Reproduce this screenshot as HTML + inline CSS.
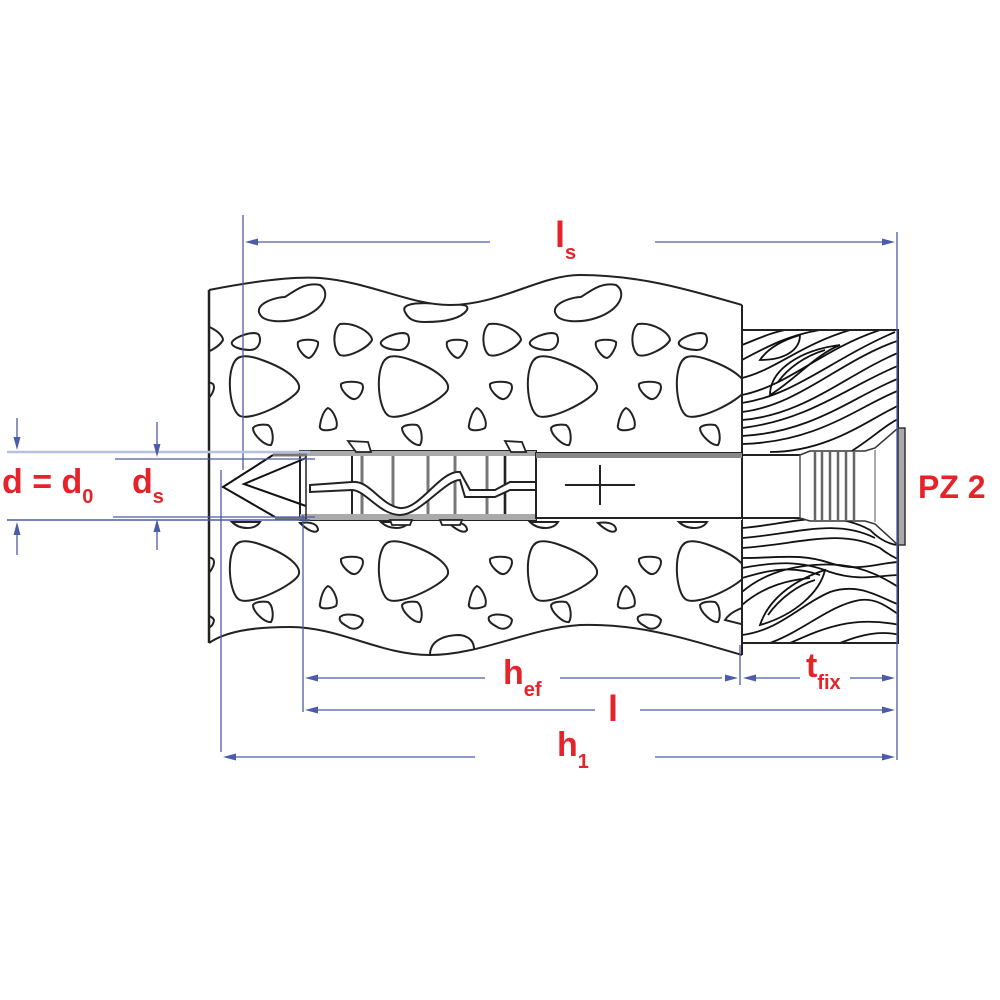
<!DOCTYPE html>
<html><head><meta charset="utf-8"><style>
html,body{margin:0;padding:0;background:#fff}
svg{display:block}
.t{font-family:"Liberation Sans",sans-serif;font-weight:bold;fill:#e5232a}
</style></head><body>
<svg width="1000" height="1000" viewBox="0 0 1000 1000" xmlns="http://www.w3.org/2000/svg">
<defs>
<clipPath id="cc"><path d="M209,290 C250,282 290,276 320,278 C370,282 410,305 450,305 C500,305 540,275 580,275 C640,275 690,290 742,305 L742,655 C690,640 640,623 580,625 C530,628 480,655 430,655 C380,655 340,627 290,627 C250,627 225,632 209,643 Z"/></clipPath>
<clipPath id="wc"><rect x="742" y="330" width="156" height="313"/></clipPath>
<g id="ut" fill="none" stroke="#222" stroke-width="2">
<path d="M240,357 C225,362 228,410 240,416 C252,421 290,402 298,391 C303,383 290,370 262,360 C254,357 246,355 240,357Z"/>
<path d="M340,324 C332,330 333,350 340,355 C348,358 368,348 372,340 C372,333 355,322 340,324Z"/>
<path d="M298,342 C296,348 305,358 309,358 C313,357 319,346 318,342 C314,339 302,339 298,342Z"/>
<path d="M232,342 C236,336 255,330 259,335 C262,342 258,350 250,350 C242,350 230,347 232,342Z"/>
<path d="M341,384 C340,390 350,400 355,399 C360,398 365,388 362,384 C358,381 345,381 341,384Z"/>
<path d="M320,425 C318,432 330,431 336,428 C339,422 333,410 328,408 C324,410 321,418 320,425Z"/>
<path d="M253,428 C253,435 265,446 271,445 C274,440 273,428 268,425 C262,424 255,425 253,428Z"/>
</g>
<g id="ub" fill="none" stroke="#222" stroke-width="2">
<path d="M240,542 C225,547 228,595 240,600 C252,605 290,587 298,576 C303,568 290,555 262,545 C254,542 246,540 240,542Z"/>
<path d="M341,559 C340,565 350,575 355,574 C360,573 365,563 362,559 C358,556 345,556 341,559Z"/>
<path d="M320,604 C318,610 330,609 336,606 C339,600 333,588 328,586 C324,588 321,596 320,604Z"/>
<path d="M253,605 C253,612 265,623 271,622 C274,617 273,605 268,602 C262,601 255,602 253,605Z"/>
<path d="M340,617 C345,613 360,614 363,620 C362,628 355,630 350,628 C345,625 338,622 340,617Z"/>
<path d="M300,523 C305,528 315,535 318,530 C318,525 312,521 300,523Z"/>
<path d="M232,522 C240,530 255,530 260,522Z"/>
</g>
</defs>

<g clip-path="url(#cc)">
<rect x="200" y="260" width="560" height="420" fill="#fff"/>
<g fill="none" stroke="#222" stroke-width="2">
<path d="M262,317 C250,305 275,297 285,297 C296,290 306,282 320,285 C331,292 325,310 300,318 C285,323 268,322 262,317Z"/>
<path d="M558,317 C546,305 571,297 581,297 C592,290 602,282 616,285 C627,292 621,310 596,318 C581,323 564,322 558,317Z"/>
<path d="M405,312 C400,303 420,302 440,304 C455,306 470,302 467,310 C460,320 440,322 425,322 C412,322 408,318 405,312Z"/>
<path d="M430,655 C430,640 445,635 460,635 C473,637 475,645 474,655Z"/>
<path d="M725,620 C730,612 745,605 750,608 L745,625Z"/>
</g>
<use href="#ut"/><use href="#ut" x="149"/><use href="#ut" x="298"/><use href="#ut" x="447"/><use href="#ut" x="-149"/>
<use href="#ub"/><use href="#ub" x="149"/><use href="#ub" x="298"/><use href="#ub" x="447"/><use href="#ub" x="-149"/>
</g>
<path d="M209,290 C250,282 290,276 320,278 C370,282 410,305 450,305 C500,305 540,275 580,275 C640,275 690,290 742,305" fill="none" stroke="#222" stroke-width="2"/>
<path d="M209,643 C225,632 250,627 290,627 C340,627 380,655 430,655 C480,655 530,628 580,625 C640,623 690,640 742,655" fill="none" stroke="#222" stroke-width="2"/>
<line x1="209" y1="290" x2="209" y2="643" stroke="#222" stroke-width="2.5"/>
<line x1="742" y1="305" x2="742" y2="655" stroke="#222" stroke-width="2"/>

<!-- wood -->
<rect x="742" y="330" width="156" height="313" fill="#fff"/>
<g clip-path="url(#wc)" fill="none" stroke="#111" stroke-width="1.8">
<path d="M742,345 C760,338 770,333 785,330"/>
<path d="M742,360 C770,345 790,335 820,330"/>
<path d="M760,360 C770,345 790,338 800,335 C800,350 785,360 760,360Z"/>
<path d="M742,378 C775,370 800,345 850,330"/>
<path d="M742,395 C790,385 820,350 880,330"/>
<path d="M742,403 C795,395 830,360 895,332"/>
<path d="M742,412 C800,405 840,360 900,340"/>
<path d="M742,420 C805,415 845,375 900,352"/>
<path d="M742,428 C810,420 850,385 900,365"/>
<path d="M742,436 C815,432 855,395 900,378"/>
<path d="M742,444 C820,442 860,405 900,390"/>
<path d="M770,452 C830,452 870,418 900,405"/>
<path d="M850,452 C870,440 885,425 900,418"/>
<path d="M770,395 C770,370 800,350 840,345 C815,355 795,380 770,395Z"/>
<path d="M778,382 C788,368 805,356 825,350"/>
<path d="M742,528 C790,524 830,508 870,530 C880,540 890,545 900,545"/>
<path d="M742,538 C795,534 835,518 875,538"/>
<path d="M742,548 C800,544 840,528 880,548 C890,556 900,560 900,560"/>
<path d="M742,558 C780,558 800,553 830,563 C860,573 880,562 900,562"/>
<path d="M742,568 C775,562 800,560 830,572 C860,582 880,575 900,575"/>
<path d="M742,578 C770,570 790,565 820,575"/>
<path d="M760,625 C770,595 800,578 825,570 C820,592 795,615 760,625Z"/>
<path d="M768,615 C780,598 798,585 815,580"/>
<path d="M742,592 C765,572 800,562 840,565 C870,568 890,582 900,588"/>
<path d="M742,605 C765,585 790,580 810,578"/>
<path d="M742,635 C780,630 800,605 830,592 C860,582 880,598 900,605"/>
<path d="M770,643 C805,630 830,605 860,600 C880,598 890,610 900,615"/>
<path d="M790,643 C820,630 850,615 900,625"/>
<path d="M840,643 C860,635 880,630 900,635"/>
</g>
<rect x="742" y="330" width="156" height="313" fill="none" stroke="#222" stroke-width="2"/>
<path d="M742,455 L800,455 L810,451 L865,451 L875,448 L898,428 L898,545 L875,524 L865,521 L810,521 L800,518 L742,518 Z" fill="#fff" stroke="#333" stroke-width="1.5"/>
<g stroke="#666" stroke-width="2.5">
<line x1="815" y1="452" x2="815" y2="520"/><line x1="822" y1="452" x2="822" y2="520"/>
<line x1="830" y1="452" x2="830" y2="520"/><line x1="838" y1="452" x2="838" y2="520"/>
<line x1="846" y1="452" x2="846" y2="520"/><line x1="854" y1="452" x2="854" y2="520"/>
</g>
<line x1="875" y1="450" x2="875" y2="522" stroke="#555" stroke-width="1"/>
<rect x="898" y="428" width="7" height="117" fill="#aaa" stroke="#333" stroke-width="1.5"/>

<rect x="212" y="452" width="530" height="68" fill="#fff"/>
<rect x="300" y="451" width="236" height="69" fill="#fff" stroke="#222" stroke-width="2"/>
<g stroke="#777" stroke-width="3">
<line x1="362" y1="453" x2="362" y2="518"/><line x1="393" y1="453" x2="393" y2="518"/>
<line x1="428" y1="453" x2="428" y2="518"/><line x1="455" y1="453" x2="455" y2="518"/>
<line x1="487" y1="453" x2="487" y2="518"/><line x1="505" y1="453" x2="505" y2="518"/>
</g>
<line x1="352" y1="451" x2="352" y2="520" stroke="#222" stroke-width="2"/>
<line x1="505" y1="451" x2="505" y2="520" stroke="#222" stroke-width="2"/>
<rect x="300" y="451" width="236" height="5" fill="#aaa"/>
<rect x="300" y="514" width="236" height="6" fill="#aaa"/>
<path d="M310,485 L352,482 C370,480 380,505 400,508 C420,510 440,470 460,472 L470,490 L495,490 L510,482 L550,482 L550,490 L510,490 L495,497 L465,497 L460,480 C445,480 420,515 400,515 C380,515 365,490 352,490 L310,492 Z" fill="#fff" stroke="#222" stroke-width="2"/>
<rect x="536" y="453" width="206" height="65" fill="#fff" stroke="#222" stroke-width="2"/>
<rect x="536" y="453" width="206" height="5" fill="#888"/>
<line x1="742" y1="455" x2="800" y2="455" stroke="#222" stroke-width="2"/>
<line x1="742" y1="518" x2="800" y2="518" stroke="#222" stroke-width="2"/>
<line x1="800" y1="455" x2="800" y2="518" stroke="#555" stroke-width="1.5"/>
<path d="M565,485 L635,485 M600,465 L600,505" stroke="#222" stroke-width="2" fill="none"/>
<path d="M273,455 L223,487 L275,517" fill="none" stroke="#111" stroke-width="2"/>
<path d="M306,458 L244,484 L306,506" fill="none" stroke="#111" stroke-width="2"/>
<line x1="273" y1="455" x2="307" y2="455" stroke="#777" stroke-width="3"/>
<line x1="275" y1="518" x2="307" y2="518" stroke="#777" stroke-width="3"/>
<line x1="306" y1="456" x2="306" y2="519" stroke="#222" stroke-width="1.5"/>
<g fill="#fff" stroke="#222" stroke-width="1.8">
<path d="M348,441 L368,442 L371,452 L356,452Z"/><path d="M505,441 L522,442 L526,452 L511,452Z"/>
<path d="M390,520 L412,520 L410,525 L392,525Z"/><path d="M440,520 L462,520 L460,525 L442,525Z"/>
</g>

<g stroke="#4b5ca8" stroke-width="1.3" fill="none">
<line x1="243" y1="215" x2="243" y2="470"/>
<line x1="897" y1="232" x2="897" y2="760"/>
<line x1="221" y1="470" x2="221" y2="752"/>
<line x1="303" y1="515" x2="303" y2="712"/>
<line x1="740" y1="645" x2="740" y2="685"/>
<line x1="250" y1="242" x2="490" y2="242"/><line x1="655" y1="242" x2="890" y2="242"/>
<line x1="310" y1="678" x2="485" y2="678"/><line x1="560" y1="678" x2="722" y2="678"/>
<line x1="748" y1="678" x2="800" y2="678"/><line x1="850" y1="678" x2="890" y2="678"/>
<line x1="310" y1="710" x2="595" y2="710"/><line x1="640" y1="710" x2="890" y2="710"/>
<line x1="228" y1="757" x2="475" y2="757"/><line x1="655" y1="757" x2="890" y2="757"/>
<line x1="7" y1="452" x2="310" y2="452" stroke-width="2.5" stroke="#b8c0e0"/>
<line x1="7" y1="520" x2="310" y2="520" stroke-width="1.5"/>
<line x1="115" y1="459" x2="315" y2="459"/>
<line x1="113" y1="517" x2="315" y2="517"/>
<line x1="17" y1="418" x2="17" y2="445"/><line x1="17" y1="527" x2="17" y2="555"/>
<line x1="157" y1="422" x2="157" y2="452"/><line x1="157" y1="524" x2="157" y2="550"/>
</g>
<g fill="#4b5ca8">
<polygon points="245,242 258,238.5 258,245.5"/><polygon points="895,242 882,238.5 882,245.5"/>
<polygon points="305,678 318,674.5 318,681.5"/><polygon points="738,678 725,674.5 725,681.5"/>
<polygon points="743,678 756,674.5 756,681.5"/><polygon points="895,678 882,674.5 882,681.5"/>
<polygon points="305,710 318,706.5 318,713.5"/><polygon points="895,710 882,706.5 882,713.5"/>
<polygon points="223,757 236,753.5 236,760.5"/><polygon points="895,757 882,753.5 882,760.5"/>
<polygon points="17,450 13.5,437 20.5,437"/><polygon points="17,522 13.5,535 20.5,535"/>
<polygon points="157,457 153.5,444 160.5,444"/><polygon points="157,519 153.5,532 160.5,532"/>
</g>

<text class="t" x="555" y="247" font-size="36">l<tspan font-size="20" dy="12">s</tspan></text>
<text class="t" x="2" y="493" font-size="34">d = d<tspan font-size="20" dy="10">0</tspan></text>
<text class="t" x="132" y="493" font-size="34">d<tspan font-size="20" dy="10">s</tspan></text>
<text class="t" x="918" y="498" font-size="32">PZ 2</text>
<text class="t" x="503" y="684" font-size="34">h<tspan font-size="20" dy="12">ef</tspan></text>
<text class="t" x="806" y="677" font-size="34">t<tspan font-size="20" dy="12">fix</tspan></text>
<text class="t" x="608" y="721" font-size="36">l</text>
<text class="t" x="557" y="756" font-size="34">h<tspan font-size="20" dy="12">1</tspan></text>
</svg>
</body></html>
